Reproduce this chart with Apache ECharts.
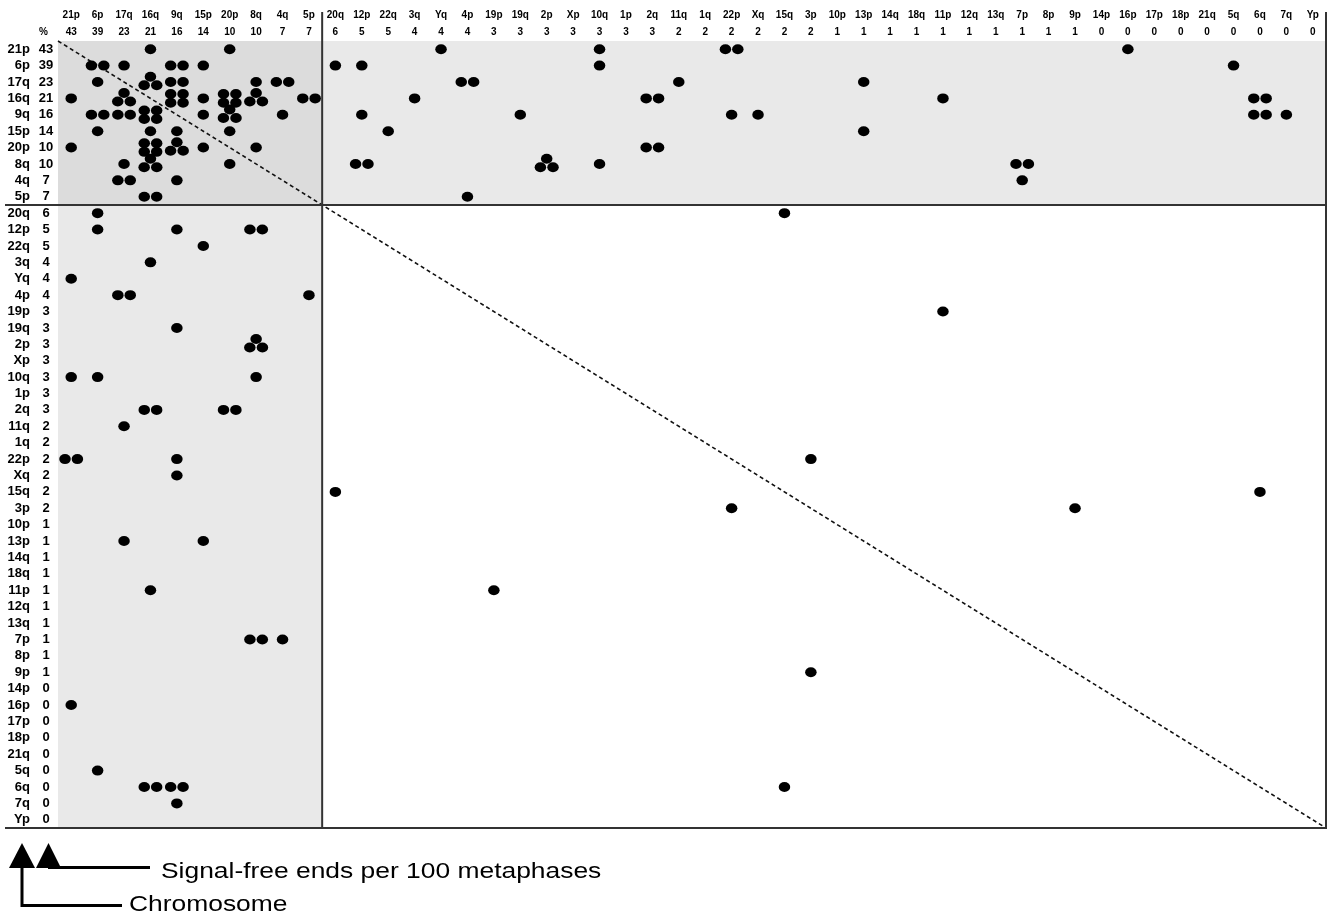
<!DOCTYPE html>
<html><head><meta charset="utf-8">
<script src="https://cdn.jsdelivr.net/npm/echarts@6/dist/echarts.min.js"></script>
<style>html,body{margin:0;padding:0;background:#fff}#c{width:1334px;height:918px}</style>
</head><body><div id="c"></div>
<script>
// chromosome arms, same order on both axes
const arms = ['21p','6p','17q','16q','9q','15p','20p','8q','4q','5p','20q','12p','22q','3q','Yq','4p','19p','19q','2p','Xp','10q','1p','2q','11q','1q','22p','Xq','15q','3p','10p','13p','14q','18q','11p','12q','13q','7p','8p','9p','14p','16p','17p','18p','21q','5q','6q','7q','Yp'];
// signal-free ends per 100 metaphases
const pct = [43,39,23,21,16,14,10,10,7,7,6,5,5,4,4,4,3,3,3,3,3,3,3,2,2,2,2,2,2,1,1,1,1,1,1,1,1,1,1,0,0,0,0,0,0,0,0,0];
// last arm of the highlighted group
const groupEnd = '5p';
// [row arm, column arm, number of dots]
const cells = [
  ['21p','16q',1],['21p','20p',1],['21p','Yq',1],['21p','10q',1],['21p','22p',2],['21p','16p',1],
  ['6p','6p',2],['6p','17q',1],['6p','9q',2],['6p','15p',1],['6p','20q',1],['6p','12p',1],['6p','10q',1],['6p','5q',1],
  ['17q','6p',1],['17q','16q',3],['17q','9q',2],['17q','8q',1],['17q','4q',2],['17q','4p',2],['17q','11q',1],['17q','13p',1],
  ['16q','21p',1],['16q','17q',3],['16q','9q',4],['16q','15p',1],['16q','20p',4],['16q','8q',3],['16q','5p',2],['16q','3q',1],['16q','2q',2],['16q','11p',1],['16q','6q',2],
  ['9q','6p',2],['9q','17q',2],['9q','16q',4],['9q','15p',1],['9q','20p',3],['9q','4q',1],['9q','12p',1],['9q','19q',1],['9q','22p',1],['9q','Xq',1],['9q','6q',2],['9q','7q',1],
  ['15p','6p',1],['15p','16q',1],['15p','9q',1],['15p','20p',1],['15p','22q',1],['15p','13p',1],
  ['20p','21p',1],['20p','16q',4],['20p','9q',3],['20p','15p',1],['20p','8q',1],['20p','2q',2],
  ['8q','17q',1],['8q','16q',3],['8q','20p',1],['8q','12p',2],['8q','2p',3],['8q','10q',1],['8q','7p',2],
  ['4q','17q',2],['4q','9q',1],['4q','7p',1],
  ['5p','16q',2],['5p','4p',1],
  ['20q','6p',1],['20q','15q',1],
  ['12p','6p',1],['12p','9q',1],['12p','8q',2],
  ['22q','15p',1],
  ['3q','16q',1],
  ['Yq','21p',1],
  ['4p','17q',2],['4p','5p',1],
  ['19p','11p',1],
  ['19q','9q',1],
  ['2p','8q',3],
  ['10q','21p',1],['10q','6p',1],['10q','8q',1],
  ['2q','16q',2],['2q','20p',2],
  ['11q','17q',1],
  ['22p','21p',2],['22p','9q',1],['22p','3p',1],
  ['Xq','9q',1],
  ['15q','20q',1],['15q','6q',1],
  ['3p','22p',1],['3p','9p',1],
  ['13p','17q',1],['13p','15p',1],
  ['11p','16q',1],['11p','19p',1],
  ['7p','8q',2],['7p','4q',1],
  ['9p','3p',1],
  ['16p','21p',1],
  ['5q','6p',1],
  ['6q','16q',2],['6q','9q',2],['6q','15q',1],
  ['7q','9q',1]
];

// dot arrangement inside a cell (pixels), by number of dots
const LAYOUT = {
  1: [[0,0]],
  2: [[-6.2,0],[6.2,0]],
  3: [[0,-5.3],[-6.3,3.2],[6.3,3.2]],
  4: [[-6.2,-4.3],[6.2,-4.3],[-6.2,4.3],[6.2,4.3]]
};
const dots = [];
cells.forEach(([r, c, n]) => {
  LAYOUT[n].forEach(off => dots.push({ value: [c, r], symbolOffset: off }));
});

const FONT = '"Liberation Sans", Arial, Helvetica, sans-serif';
const split = arms.indexOf(groupEnd) + 1;

const chart = echarts.init(document.getElementById('c'), null, { renderer: 'canvas' });
chart.setOption({
  backgroundColor: '#ffffff',
  animation: false,
  grid: { left: 58, right: 8, top: 41, bottom: 90, outerBoundsMode: 'none' },
  xAxis: {
    type: 'category', data: arms, position: 'top',
    axisLine: { show: false }, axisTick: { show: false }, splitLine: { show: false },
    axisLabel: {
      interval: 0, margin: 0, color: '#000',
      formatter: (v, i) => '{n|' + v + '}\n{p|' + pct[i] + '}',
      rich: {
        n: { fontFamily: FONT, fontSize: 10, fontWeight: 'bold', lineHeight: 17, color: '#000' },
        p: { fontFamily: FONT, fontSize: 10, fontWeight: 'bold', lineHeight: 17, color: '#000' }
      }
    }
  },
  yAxis: {
    type: 'category', data: arms, inverse: true,
    axisLine: { show: false }, axisTick: { show: false }, splitLine: { show: false },
    axisLabel: {
      interval: 0, margin: 2, color: '#000', align: 'right',
      formatter: (v, i) => '{n|' + v + '}{g| }{p|' + pct[i] + '}',
      rich: {
        n: { fontFamily: FONT, fontSize: 13, fontWeight: 'bold', color: '#000' },
        g: { width: 6, fontSize: 13 },
        p: { fontFamily: FONT, fontSize: 13, fontWeight: 'bold', width: 20, align: 'center', color: '#000' }
      }
    }
  },
  series: [
    {
      type: 'custom', z: 1, silent: true, clip: false,
      data: [[0, 0]],
      renderItem(params, api) {
        const cs = params.coordSys;
        const sz = api.size([1, 1]);
        const cw = sz[0], ch = sz[1];
        const x0 = cs.x, y0 = cs.y, x1 = cs.x + cs.width, y1 = cs.y + cs.height;
        const xs = x0 + split * cw, ys = y0 + split * ch;
        const ln = (a, b, c, d) => ({ type: 'line', shape: { x1: a, y1: b, x2: c, y2: d },
          style: { stroke: '#333', lineWidth: 2 } });
        return {
          type: 'group',
          children: [
            { type: 'rect', shape: { x: x0, y: y0, width: x1 - x0, height: ys - y0 }, style: { fill: '#e9e9e9' } },
            { type: 'rect', shape: { x: x0, y: ys, width: xs - x0, height: y1 - ys }, style: { fill: '#e9e9e9' } },
            { type: 'rect', shape: { x: x0, y: y0, width: xs - x0, height: ys - y0 }, style: { fill: '#dcdcdc' } },
            { type: 'line', shape: { x1: x0, y1: y0, x2: x1, y2: y1 },
              style: { stroke: '#111', lineWidth: 1.6, lineDash: [4, 3] } },
            ln(xs, 12, xs, y1 + 1),
            ln(x1, 12, x1, y1 + 1),
            ln(5, ys, x1 + 1, ys),
            ln(5, y1, x1 + 1, y1)
          ]
        };
      }
    },
    {
      type: 'scatter', z: 3, silent: true,
      symbol: 'circle', symbolSize: [11.5, 10],
      itemStyle: { color: '#000', opacity: 1 },
      data: dots
    }
  ],
  graphic: [
    { type: 'text', x: 43.5, y: 32, style: { text: '%', font: 'bold 10px ' + FONT, fill: '#000',
      textAlign: 'center', textVerticalAlign: 'middle', align: 'center', verticalAlign: 'middle' } },
    { type: 'polygon', shape: { points: [[9, 868], [35, 868], [22, 843]] }, style: { fill: '#000' } },
    { type: 'polyline', shape: { points: [[22, 866], [22, 905.5], [122, 905.5]] }, style: { stroke: '#000', lineWidth: 3, fill: null } },
    { type: 'polygon', shape: { points: [[36, 868], [61, 868], [48.5, 843]] }, style: { fill: '#000' } },
    { type: 'line', shape: { x1: 48, y1: 867.5, x2: 150, y2: 867.5 }, style: { stroke: '#000', lineWidth: 3 } },
    { type: 'text', x: 161, y: 872, scaleX: 1.2, style: { text: 'Signal-free ends per 100 metaphases', x: 0, y: 0,
      font: '22px ' + FONT, fill: '#000', textAlign: 'left', textVerticalAlign: 'middle', align: 'left', verticalAlign: 'middle' } },
    { type: 'text', x: 129, y: 905, scaleX: 1.2, style: { text: 'Chromosome', x: 0, y: 0,
      font: '22px ' + FONT, fill: '#000', textAlign: 'left', textVerticalAlign: 'middle', align: 'left', verticalAlign: 'middle' } }
  ]
});
</script>
</body></html>
